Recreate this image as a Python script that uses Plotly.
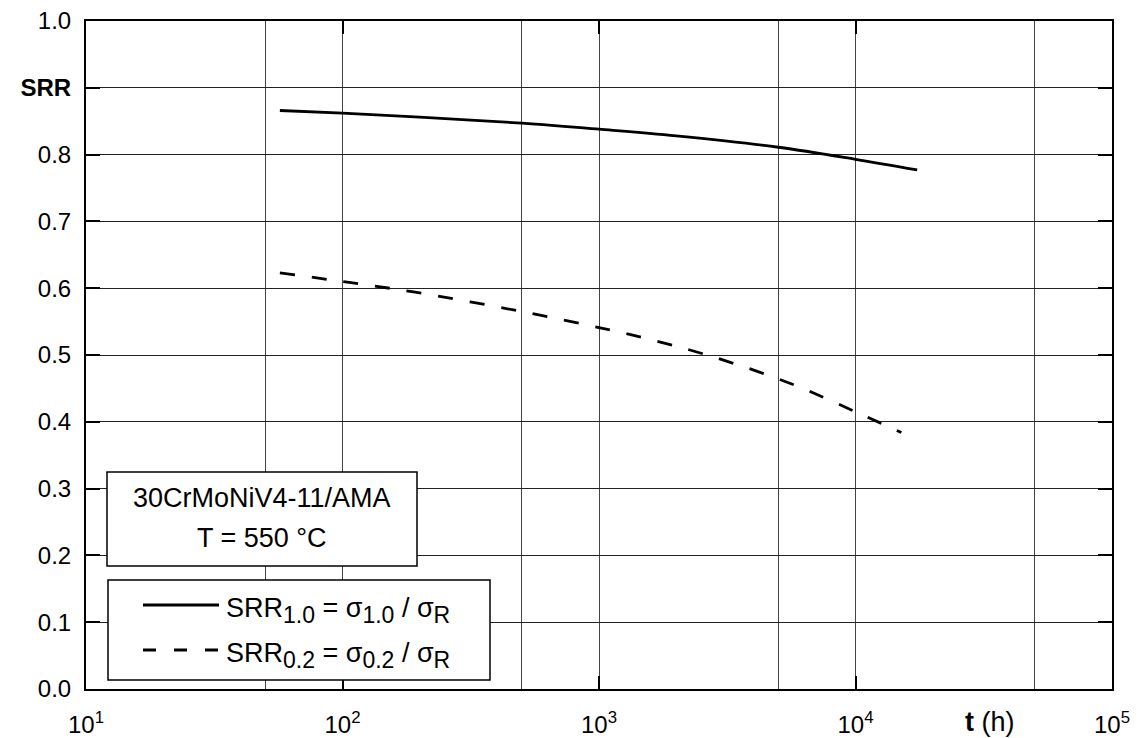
import plotly.graph_objects as go

# Data
t_srr10 = [57, 100, 200, 500, 1000, 2000, 5000, 10000, 17400]
srr10 = [0.866, 0.862, 0.856, 0.847, 0.838, 0.828, 0.811, 0.793, 0.777]

t_srr02 = [57, 100, 192, 500, 1000, 1444, 2637, 5610, 10000, 15100]
srr02 = [0.623, 0.610, 0.594, 0.565, 0.541, 0.527, 0.500, 0.457, 0.415, 0.384]

x_tickvals = [10, 100, 1000, 10000, 100000]
x_ticktext = ["10<sup>1</sup>", "10<sup>2</sup>", "10<sup>3</sup>", "10<sup>4</sup>", "10<sup>5</sup>"]
x_minor = [50, 500, 5000, 50000]
y_tickvals = [0.0, 0.1, 0.2, 0.3, 0.4, 0.5, 0.6, 0.7, 0.8, 0.9, 1.0]
y_ticktext = ["0.0", "0.1", "0.2", "0.3", "0.4", "0.5", "0.6", "0.7", "0.8", "<b>SRR</b>", "1.0"]

W, H = 1143, 738
L, R, T, B = 86, 31, 21, 49
PW, PH = W - L - R, H - T - B


def px(x):
    return (x - L) / PW


def py(y):
    return (H - B - y) / PH


FONT = "Liberation Sans, Arial, sans-serif"


def sub(s):
    return "<sub><span style='font-size:23px'>" + s + "</span></sub>"


fig = go.Figure()
fig.add_trace(go.Scatter(x=t_srr10, y=srr10, mode="lines", line=dict(color="black", width=2.8, shape="spline"),
                         showlegend=False, hoverinfo="skip"))
fig.add_trace(go.Scatter(x=t_srr02, y=srr02, mode="lines",
                         line=dict(color="black", width=2.8, dash="15px,17px", shape="spline"),
                         showlegend=False, hoverinfo="skip"))

shapes = []
# Info box
shapes.append(dict(type="rect", xref="paper", yref="paper", x0=px(107), x1=px(417), y0=py(566), y1=py(472),
                   fillcolor="white", line=dict(color="black", width=1.5), layer="above"))
# Legend box
shapes.append(dict(type="rect", xref="paper", yref="paper", x0=px(108), x1=px(490), y0=py(680), y1=py(580),
                   fillcolor="white", line=dict(color="black", width=1.5), layer="above"))
shapes.append(dict(type="line", xref="paper", yref="paper", x0=px(143), x1=px(219), y0=py(605), y1=py(605),
                   line=dict(color="black", width=2.8), layer="above"))
shapes.append(dict(type="line", xref="paper", yref="paper", x0=px(143), x1=px(219), y0=py(650), y1=py(650),
                   line=dict(color="black", width=2.8, dash="13px,18px"), layer="above"))

annotations = [
    dict(text="30CrMoNiV4-11/AMA", xref="paper", yref="paper", x=px(262), y=py(498), showarrow=False,
         xanchor="center", yanchor="middle", font=dict(size=27, color="black", family=FONT)),
    dict(text="T = 550 °C", xref="paper", yref="paper", x=px(262), y=py(538), showarrow=False,
         xanchor="center", yanchor="middle", font=dict(size=27, color="black", family=FONT)),
    dict(text="SRR" + sub("1.0") + " = σ" + sub("1.0") + " / σ" + sub("R"), xref="paper", yref="paper",
         x=px(224), y=py(610), showarrow=False, xanchor="left", yanchor="middle",
         font=dict(size=27, color="black", family=FONT)),
    dict(text="SRR" + sub("0.2") + " = σ" + sub("0.2") + " / σ" + sub("R"), xref="paper", yref="paper",
         x=px(224), y=py(655), showarrow=False, xanchor="left", yanchor="middle",
         font=dict(size=27, color="black", family=FONT)),
    dict(text="<b>t</b> (h)", xref="paper", yref="paper", x=px(990), y=py(722), showarrow=False,
         xanchor="center", yanchor="middle", font=dict(size=27, color="black", family=FONT)),
]

fig.update_layout(
    width=W, height=H,
    margin=dict(l=L, r=R, t=T, b=B, pad=0, autoexpand=False),
    paper_bgcolor="white", plot_bgcolor="white",
    font=dict(family=FONT, size=24, color="black"),
    shapes=shapes, annotations=annotations,
    showlegend=False,
)
fig.update_xaxes(type="log", range=[1, 5], tickvals=x_tickvals, ticktext=x_ticktext,
                 ticks="inside", ticklen=13, tickwidth=1.5, tickcolor="black",
                 showline=True, linecolor="black", linewidth=2, mirror="ticks",
                 showgrid=True, gridcolor="#444444", gridwidth=1,
                 minor=dict(tickvals=x_minor, showgrid=True, gridcolor="#444444", gridwidth=1, ticks=""),
                 ticklabelstandoff=13, automargin=False,
                 tickfont=dict(size=24, family=FONT, color="black"), zeroline=False)
fig.update_yaxes(range=[0, 1], tickvals=y_tickvals, ticktext=y_ticktext,
                 ticks="inside", ticklen=14, tickwidth=1.5, tickcolor="black",
                 showline=True, linecolor="black", linewidth=2, mirror="ticks",
                 showgrid=True, gridcolor="#222222", gridwidth=1,
                 ticklabelstandoff=8, automargin=False,
                 tickfont=dict(size=24, family=FONT, color="black"), zeroline=False)

fig.write_html("out.html")
